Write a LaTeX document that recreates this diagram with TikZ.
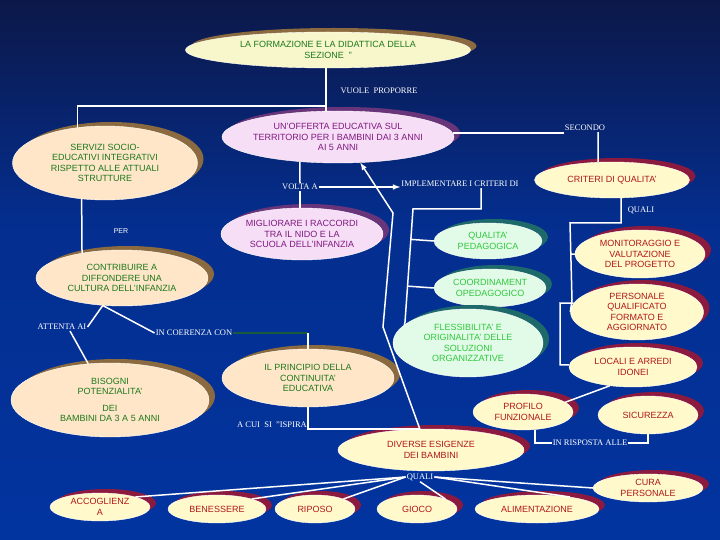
\documentclass[tikz,border=0pt]{standalone}
\usepackage{fontspec}
\setmainfont{Liberation Serif}
\setsansfont{Liberation Sans}
\usetikzlibrary{shapes.geometric,shadows,calc}
\definecolor{bgtop}{RGB}{12,24,72}
\definecolor{bgmid}{RGB}{4,46,142}
\definecolor{bgbot}{RGB}{2,52,160}
\definecolor{paleyel}{RGB}{248,247,204}
\definecolor{peach}{RGB}{255,230,200}
\definecolor{brownsh}{RGB}{138,106,62}
\definecolor{leaf}{RGB}{28,120,28}
\definecolor{lilac}{RGB}{246,222,246}
\definecolor{plumsh}{RGB}{104,52,122}
\definecolor{plum}{RGB}{128,24,128}
\definecolor{cream}{RGB}{255,249,204}
\definecolor{winesh}{RGB}{140,26,62}
\definecolor{brick}{RGB}{176,24,24}
\definecolor{mint}{RGB}{226,251,232}
\definecolor{tealsh}{RGB}{30,106,106}
\definecolor{lime}{RGB}{48,200,60}
\definecolor{pine}{RGB}{26,90,60}

\begin{document}
\begin{tikzpicture}[x=1pt,y=-1pt,>=latex,
  ell/.style={ellipse,draw=white,line width=.4pt,inner xsep=-10pt,inner ysep=-2pt,
    align=center,font=\sffamily\fontsize{9}{10.5}\selectfont},
  brown ell/.style={ell,fill=peach,text=leaf,
    drop shadow={shadow xshift=6pt,shadow yshift=4pt,fill=brownsh,opacity=1}},
  plum ell/.style={ell,fill=lilac,text=plum,
    drop shadow={shadow xshift=6pt,shadow yshift=4pt,fill=plumsh,opacity=1}},
  red ell/.style={ell,fill=cream,text=brick,
    drop shadow={shadow xshift=6pt,shadow yshift=4pt,fill=winesh,opacity=1}},
  teal ell/.style={ell,fill=mint,text=lime,
    drop shadow={shadow xshift=6pt,shadow yshift=4pt,fill=tealsh,opacity=1}},
  lbl/.style={text=white,inner sep=1pt,font=\fontsize{8.5}{10}\selectfont},
  link/.style={white,line width=1.5pt},
  coerline/.style={pine,line width=1.5pt}]
  \shade[top color=bgtop,bottom color=bgmid] (0,0) rectangle (720,220);
  \shade[top color=bgmid,bottom color=bgbot] (0,219) rectangle (720,540);
  \useasboundingbox (0,0) rectangle (720,540);

  \node[brown ell,fill=paleyel,minimum width=285pt,minimum height=36pt] (formaz) at (328,50)
    {LA FORMAZIONE E LA DIDATTICA DELLA\\SEZIONE\ \ "};
  \node[lbl] (vuole) at (379,91) {VUOLE\ \ PROPORRE};
  \node[plum ell,minimum width=232pt,minimum height=52pt] (offerta) at (338,137)
    {UN'OFFERTA EDUCATIVA SUL\\TERRITORIO PER I BAMBINI DAI 3 ANNI\\AI 5 ANNI};
  \node[brown ell,minimum width=185pt,minimum height=74pt] (servizi) at (105,163)
    {SERVIZI SOCIO-\\EDUCATIVI INTEGRATIVI\\RISPETTO ALLE ATTUALI\\STRUTTURE};
  \node[lbl] (secondo) at (585,128) {SECONDO};
  \node[red ell,minimum width=155pt,minimum height=36pt] (criteri) at (612,180) {CRITERI DI QUALITA'};
  \node[lbl] (volta) at (300,187) {VOLTA A};
  \node[lbl] (implem) at (460,184) {IMPLEMENTARE I CRITERI DI};
  \node[lbl,font=\sffamily\fontsize{7}{8}\selectfont] (per) at (121,231) {PER};
  \node[plum ell,minimum width=162pt,minimum height=52pt] (miglior) at (302,234)
    {MIGLIORARE I RACCORDI\\TRA IL NIDO E LA\\SCUOLA DELL'INFANZIA};
  \node[lbl] (quali) at (641,210) {QUALI};
  \node[teal ell,minimum width=108pt,minimum height=36pt] (qualped) at (488,241) {QUALITA'\\PEDAGOGICA};
  \node[red ell,minimum width=130pt,minimum height=48pt] (monit) at (640,254)
    {MONITORAGGIO E\\VALUTAZIONE\\DEL PROGETTO};
  \node[brown ell,minimum width=172pt,minimum height=56pt] (contrib) at (122,278)
    {CONTRIBUIRE A\\DIFFONDERE UNA\\CULTURA DELL'INFANZIA};
  \node[teal ell,minimum width=112pt,minimum height=38pt] (coord) at (490,288) {COORDINAMENT\\OPEDAGOGICO};
  \node[red ell,minimum width=133pt,minimum height=56pt] (personale) at (637,312)
    {PERSONALE\\QUALIFICATO\\FORMATO E\\AGGIORNATO};
  \node[lbl] (attenta) at (62,327) {ATTENTA AI};
  \node[lbl] (coerenza) at (194,333) {IN COERENZA CON};
  \node[teal ell,minimum width=150pt,minimum height=68pt] (flessib) at (468,343)
    {FLESSIBILITA' E\\ORIGINALITA' DELLE\\SOLUZIONI\\ORGANIZZATIVE};
  \node[red ell,minimum width=128pt,minimum height=40pt] (locali) at (633,367) {LOCALI E ARREDI\\IDONEI};
  \node[brown ell,minimum width=172pt,minimum height=58pt] (principio) at (308,378)
    {IL PRINCIPIO DELLA\\CONTINUITA'\\EDUCATIVA};
  \node[brown ell,minimum width=198pt,minimum height=74pt] (bisogni) at (110,400)
    {BISOGNI\\POTENZIALITA'\\[6pt]DEI\\BAMBINI DA 3 A 5 ANNI};
  \node[red ell,minimum width=100pt,minimum height=36pt] (profilo) at (523,412) {PROFILO\\FUNZIONALE};
  \node[red ell,minimum width=100pt,minimum height=38pt] (sicurezza) at (648,415) {SICUREZZA};
  \node[lbl] (ispira) at (272,425) {A CUI\ \ SI\ \ "ISPIRA};
  \node[lbl] (risposta) at (590,443) {IN RISPOSTA ALLE};
  \node[red ell,minimum width=186pt,minimum height=42pt] (diverse) at (431,450) {DIVERSE ESIGENZE\\DEI BAMBINI};
  \node[lbl] (qualib) at (420,477) {QUALI};
  \node[red ell,minimum width=110pt,minimum height=28pt] (cura) at (648,488) {CURA\\PERSONALE};
  \node[red ell,minimum width=100pt,minimum height=28pt] (accogl) at (100,507) {ACCOGLIENZ\\A};
  \node[red ell,minimum width=98pt,minimum height=28pt] (benessere) at (217,509) {BENESSERE};
  \node[red ell,minimum width=80pt,minimum height=28pt] (riposo) at (315,509) {RIPOSO};
  \node[red ell,minimum width=80pt,minimum height=28pt] (gioco) at (417,509) {GIOCO};
  \node[red ell,minimum width=124pt,minimum height=28pt] (aliment) at (537,509) {ALIMENTAZIONE};

  \coordinate (fork) at (326,106);
  \draw[link] (formaz.south -| fork) -- (fork |- offerta.north);
  \draw[link] (fork) -| (servizi.128);
  \draw[link] (offerta.2) -- (offerta.2 -| secondo.west);
  \draw[link] ([xshift=13pt]secondo.south) -- (criteri.128);
  \draw[link] (offerta.213) -- (volta.north);
  \draw[link] (volta.south) -- (volta.south |- miglior.north);
  \draw[link,->] (volta.east) -- (volta.east -| implem.west);

  \coordinate (g1) at (413,209);
  \coordinate (g2) at (405,322);
  \draw[link] ([xshift=21pt]implem.south) |- (g1) -- (g2) -- (flessib.164);
  \draw[link] ($(g1)!(qualped.west)!(g2)$) -- (qualped.west);
  \draw[link] ($(g1)!(coord.west)!(g2)$) -- (coord.west);

  \coordinate (h1) at (393,213);
  \coordinate (h2) at (383,327);
  \draw[link,->] (diverse.118) -- (h2) -- (h1) -- (offerta.-49);

  \coordinate (k1) at (570,223);
  \coordinate (k2) at (572,300);
  \draw[link] (criteri.-63) |- (k1) -- (k2) -- (personale.west);
  \draw[link] ($(k1)!(monit.west)!(k2)$) -- (monit.west);
  \coordinate (m1) at (560,303);
  \draw[link] (personale.172) -- (m1) |- (locali.178);
  \draw[link] (locali.219) -- (profilo.13);
  \draw[link] (profilo.-56) |- (risposta.west);
  \draw[link] (risposta.east) -| (sicurezza.south);

  \draw[coerline] (coerenza.east) -- (coerenza.east -| principio.north);
  \draw[link] (coerenza.east -| principio.north) -- (principio.north);
  \draw[link] (principio.south) |- (diverse.118);
  \draw[link] (servizi.237) -- (contrib.148);
  \draw[link] (contrib.235) -- (attenta.east);
  \draw[link] (contrib.235) -- (coerenza.west);
  \draw[link] ([xshift=8pt]attenta.south) -- (bisogni.121);

  \draw[link] (qualib.west) -- (accogl.north east);
  \draw[link] (qualib.west) -- (benessere.north east);
  \draw[link] (qualib.west) -- (riposo.north east);
  \draw[link] (qualib.south) -- (gioco.north east);
  \draw[link] (qualib.east) -- (aliment.20);
  \draw[link] (qualib.east) -- (cura.west);
\end{tikzpicture}
\end{document}
